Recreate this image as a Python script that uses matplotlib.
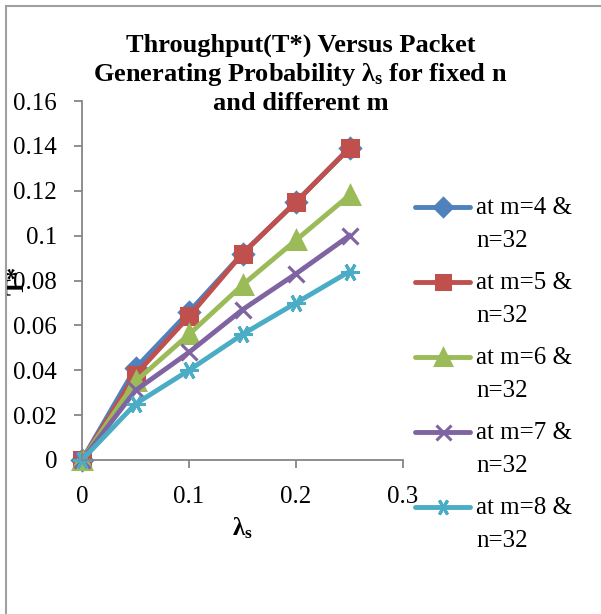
import matplotlib
matplotlib.use("Agg")
import matplotlib.pyplot as plt
from matplotlib.patches import Rectangle
from matplotlib.lines import Line2D

plt.rcParams['font.family'] = ['Liberation Serif', 'DejaVu Serif']
plt.rcParams['mathtext.fontset'] = 'custom'
plt.rcParams['mathtext.rm'] = 'Liberation Serif'
plt.rcParams['mathtext.bf'] = 'Liberation Serif:bold'
plt.rcParams['mathtext.it'] = 'Liberation Serif:italic'

lam = [0, 0.05, 0.1, 0.15, 0.2, 0.25]
m4 = [0, 0.041, 0.066, 0.092, 0.115, 0.139]
m5 = [0, 0.038, 0.064, 0.092, 0.115, 0.139]
m6 = [0, 0.035, 0.056, 0.078, 0.098, 0.118]
m7 = [0, 0.031, 0.048, 0.067, 0.083, 0.100]
m8 = [0, 0.025, 0.040, 0.056, 0.070, 0.084]
labels = ["at m=4 &\nn=32", "at m=5 &\nn=32", "at m=6 &\nn=32",
          "at m=7 &\nn=32", "at m=8 &\nn=32"]
series = [m4, m5, m6, m7, m8]
colors = ['#4F81BD', '#C0504D', '#9BBB59', '#8064A2', '#4BACC6']
markers = ['D', 's', '^', 'x', (6, 2, 90)]
msizes = [10, 11, 13, 12, 13]

W, H = 601, 614
fig = plt.figure(figsize=(W / 100, H / 100), dpi=100)
ax = fig.add_axes([82 / W, 1 - 460 / H, (403 - 82) / W, (460 - 101) / H])

for ys, c, mk, ms, lb in zip(series, colors, markers, msizes, labels):
    ax.plot(lam, ys, color=c, lw=3.5, marker=mk, ms=ms, mew=2.2,
            mfc=c, mec=c, label=lb, clip_on=False, solid_joinstyle='round')

ax.set_xlim(0, 0.3)
ax.set_ylim(0, 0.16)
ax.set_xticks([0, 0.1, 0.2, 0.3])
ax.set_xticklabels(['0', '0.1', '0.2', '0.3'])
ax.set_yticks([0, 0.02, 0.04, 0.06, 0.08, 0.1, 0.12, 0.14, 0.16])
ax.set_yticklabels(['0', '0.02', '0.04', '0.06', '0.08', '0.1', '0.12', '0.14', '0.16'])
for s in ['top', 'right']:
    ax.spines[s].set_visible(False)
for s in ['left', 'bottom']:
    ax.spines[s].set_color('#868686')
    ax.spines[s].set_linewidth(1.3)
ax.tick_params(axis='both', colors='#868686', labelcolor='black', labelsize=18,
               length=6, width=1.3, direction='out')
ax.tick_params(axis='y', pad=12)
ax.tick_params(axis='x', pad=13)

ax.set_xlabel('λ$_{\\mathbf{s}}$', fontsize=18, fontweight='bold')
ax.xaxis.set_label_coords(0.5, -0.155)
ax.set_ylabel('T*', fontsize=18, fontweight='bold')
ax.yaxis.set_label_coords(-0.165, 0.5)

fig.text(0.5, 1 - 74 / H,
         'Throughput(T*) Versus Packet\nGenerating Probability λ$_{\\mathbf{s}}$ for fixed n\nand different m',
         ha='center', va='center', fontsize=19, fontweight='bold', linespacing=1.2)

# legend, built by hand so the key lines up with the first text line
for i, (c, mk, ms, lb) in enumerate(zip(colors, markers, msizes, labels)):
    yc = 1 - (207 + 75 * i) / H
    fig.add_artist(Line2D([415 / W, 470 / W], [yc, yc], transform=fig.transFigure,
                          color=c, lw=3.5, solid_capstyle='round'))
    fig.add_artist(Line2D([442.5 / W], [yc], transform=fig.transFigure,
                          color=c, marker=mk, ms=ms * 0.9, mew=2.2, mfc=c, mec=c))
    fig.text(476 / W, yc + 10 / H, lb, ha='left', va='top', fontsize=18,
             linespacing=1.65)

fig.add_artist(Rectangle((5.5 / W, -0.1), 1.2, 1 - 5.5 / H + 0.1,
                         transform=fig.transFigure, fill=False,
                         edgecolor='#A0A0A0', lw=1.5))

fig.savefig('out.png', dpi=100)
